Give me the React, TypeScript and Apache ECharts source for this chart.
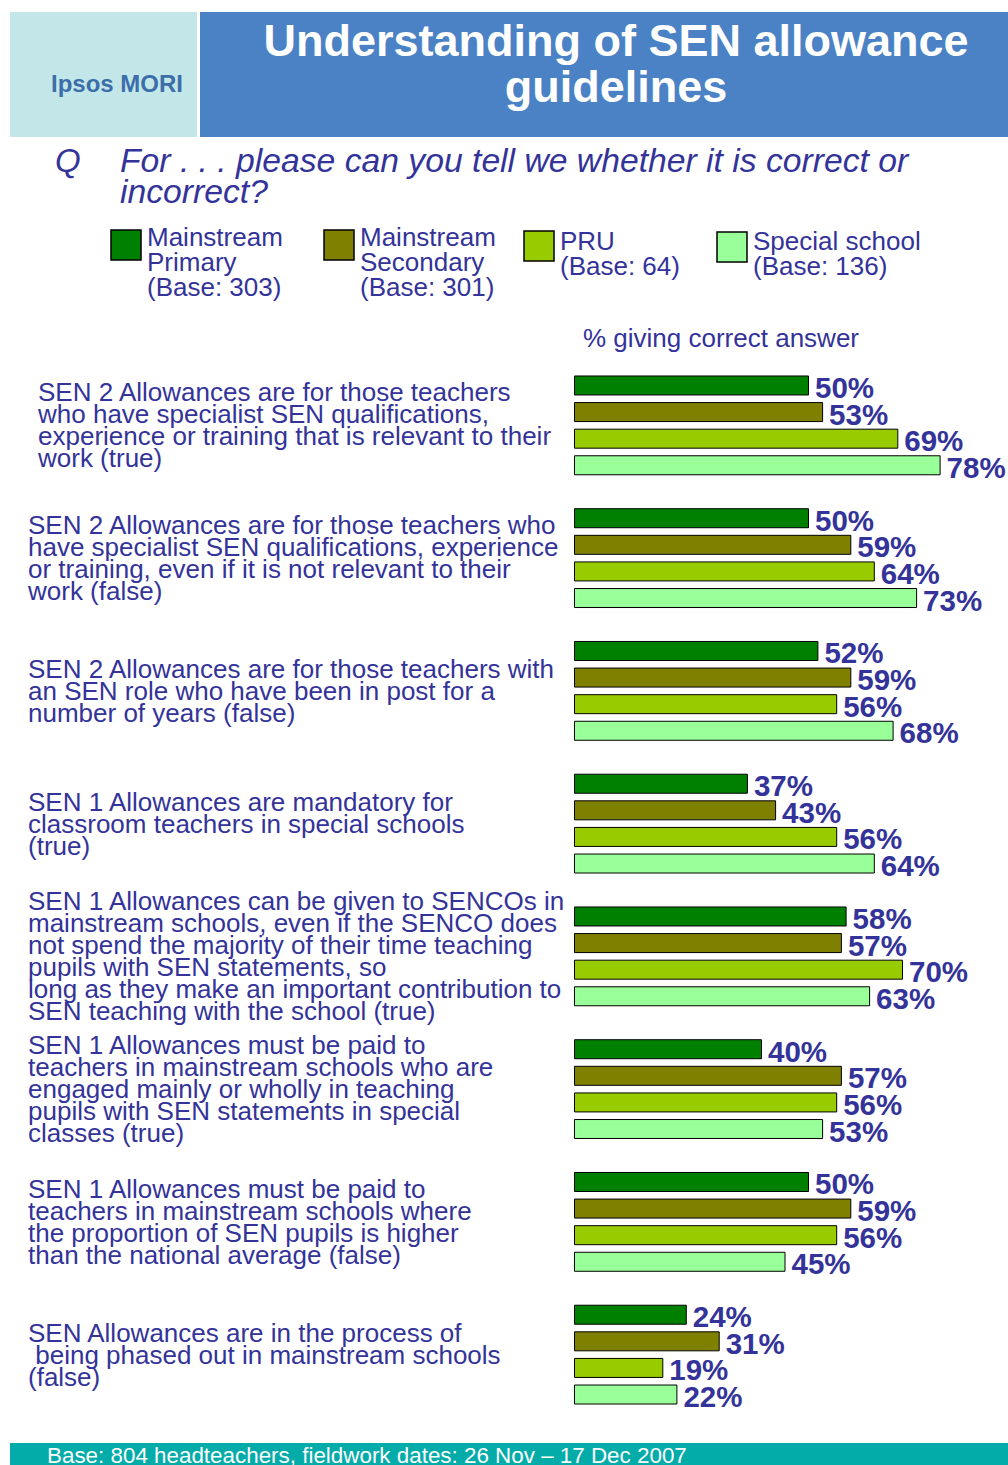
import React, { useEffect, useRef } from "react";
import * as echarts from "echarts";

const categories: string[] = [
  "SEN 2 Allowances are for those teachers\nwho have specialist SEN qualifications,\nexperience or training that is relevant to their\nwork (true)",
  "SEN 2 Allowances are for those teachers who\nhave specialist SEN qualifications, experience\nor training, even if it is not relevant to their\nwork (false)",
  "SEN 2 Allowances are for those teachers with\nan SEN role who have been in post for a\nnumber of years (false)",
  "SEN 1 Allowances are mandatory for\nclassroom teachers in special schools\n(true)",
  "SEN 1 Allowances can be given to SENCOs in\nmainstream schools, even if the SENCO does\nnot spend the majority of their time teaching\npupils with SEN statements, so\nlong as they make an important contribution to\nSEN teaching with the school (true)",
  "SEN 1 Allowances must be paid to\nteachers in mainstream schools who are\nengaged mainly or wholly in teaching\npupils with SEN statements in special\nclasses (true)",
  "SEN 1 Allowances must be paid to\nteachers in mainstream schools where\nthe proportion of SEN pupils is higher\nthan the national average (false)",
  "SEN Allowances are in the process of\n being phased out in mainstream schools\n(false)",
];

const seriesNames: string[] = ["Mainstream Primary", "Mainstream Secondary", "PRU", "Special school"];
const legendLines: string[] = [
  "Mainstream\nPrimary\n(Base: 303)",
  "Mainstream\nSecondary\n(Base: 301)",
  "PRU\n(Base: 64)",
  "Special school\n(Base: 136)",
];
const mainstreamPrimary: number[] = [50, 50, 52, 37, 58, 40, 50, 24];
const mainstreamSecondary: number[] = [53, 59, 59, 43, 57, 57, 59, 31];
const pru: number[] = [69, 64, 56, 56, 70, 56, 56, 19];
const specialSchool: number[] = [78, 73, 68, 64, 63, 53, 45, 22];
const seriesValues: number[][] = [mainstreamPrimary, mainstreamSecondary, pru, specialSchool];
const colors: string[] = ["#008000", "#808000", "#99cc00", "#99ff99"];

const NAVY = "#333399";
const FONT = "Liberation Sans, Arial, sans-serif";

export default function App() {
  const ref = useRef<HTMLDivElement>(null);
  useEffect(() => {
    if (!ref.current) return;
    const chart = echarts.init(ref.current, null, { renderer: "svg" });

    const legendX = [111, 324, 524, 717];
    const legendSqY = [230, 230, 231, 232];
    const legendTextY = [224, 224, 228, 228];
    const legendGraphics: any[] = [];
    seriesNames.forEach((_, i) => {
      legendGraphics.push({
        type: "rect",
        shape: { x: legendX[i], y: legendSqY[i], width: 30, height: 30 },
        style: { fill: colors[i], stroke: "#000", lineWidth: 1.5 },
      });
      legendGraphics.push({
        type: "text",
        x: legendX[i] + 36,
        y: legendTextY[i],
        style: {
          text: legendLines[i],
          fill: NAVY,
          font: `26px ${FONT}`,
          lineHeight: 25,
          align: "left",
          verticalAlign: "top",
        },
      });
    });

    const option: any = {
      animation: false,
      backgroundColor: "#ffffff",
      textStyle: { fontFamily: FONT },
      grid: { left: 574, right: 11, top: 359, height: 1062 },
      xAxis: {
        type: "value",
        min: 0,
        max: 90,
        show: false,
      },
      yAxis: {
        type: "category",
        inverse: true,
        data: categories,
        axisLine: { show: false },
        axisTick: { show: false },
        splitLine: { show: false },
        axisLabel: {
          align: "left",
          margin: 546,
          fontSize: 26,
          lineHeight: 22,
          color: NAVY,
          fontFamily: FONT,
          formatter: (v: string, idx: number) =>
            idx === 0 ? v.split("\n").map((l) => `{ind|${l}}`).join("\n") : v,
          rich: {
            ind: { padding: [0, 0, 0, 10], fontSize: 26, lineHeight: 22, color: NAVY, fontFamily: FONT },
          },
        },
      },
      series: seriesNames.map((name, i) => ({
        name,
        type: "bar",
        data: seriesValues[i],
        barWidth: 20,
        barGap: "33%",
        itemStyle: { color: colors[i], borderColor: "#000", borderWidth: 1 },
        label: {
          show: true,
          position: "right",
          distance: 6,
          offset: [0, 2],
          formatter: "{c}%",
          fontSize: 29.5,
          fontWeight: "bold",
          color: NAVY,
          fontFamily: FONT,
        },
      })),
      graphic: [
        { type: "rect", shape: { x: 10, y: 12, width: 187, height: 125 }, style: { fill: "#c3e7e9" } },
        { type: "rect", shape: { x: 200, y: 12, width: 808, height: 125 }, style: { fill: "#4a82c5" } },
        {
          type: "text",
          x: 117,
          y: 83,
          style: {
            text: "Ipsos MORI",
            fill: "#3c6eaa",
            font: `bold 24px ${FONT}`,
            align: "center",
            verticalAlign: "middle",
          },
        },
        {
          type: "text",
          x: 616,
          y: 63,
          style: {
            text: "Understanding of SEN allowance\nguidelines",
            fill: "#ffffff",
            font: `bold 45px ${FONT}`,
            lineHeight: 46,
            align: "center",
            verticalAlign: "middle",
          },
        },
        {
          type: "text",
          x: 55,
          y: 160,
          style: { text: "Q", fill: NAVY, font: `italic 33px ${FONT}`, align: "left", verticalAlign: "middle" },
        },
        {
          type: "text",
          x: 120,
          y: 175,
          style: {
            text: "For . . . please can you tell we whether it is correct or\nincorrect?",
            fill: NAVY,
            font: `italic 33.7px ${FONT}`,
            lineHeight: 31,
            align: "left",
            verticalAlign: "middle",
          },
        },
        ...legendGraphics,
        {
          type: "text",
          x: 583,
          y: 338,
          style: {
            text: "% giving correct answer",
            fill: NAVY,
            font: `26px ${FONT}`,
            align: "left",
            verticalAlign: "middle",
          },
        },
        { type: "rect", shape: { x: 10, y: 1443, width: 998, height: 22 }, style: { fill: "#04aca9" } },
        {
          type: "text",
          x: 47,
          y: 1455,
          style: {
            text: "Base: 804 headteachers, fieldwork dates: 26 Nov \u2013 17 Dec 2007",
            fill: "#ffffff",
            font: `22.4px ${FONT}`,
            align: "left",
            verticalAlign: "middle",
          },
        },
      ],
    };
    chart.setOption(option);
    return () => chart.dispose();
  }, []);

  return (
    <div
      ref={ref}
      style={{ position: "absolute", left: 0, top: 0, width: 1008, height: 1465 }}
    />
  );
}
